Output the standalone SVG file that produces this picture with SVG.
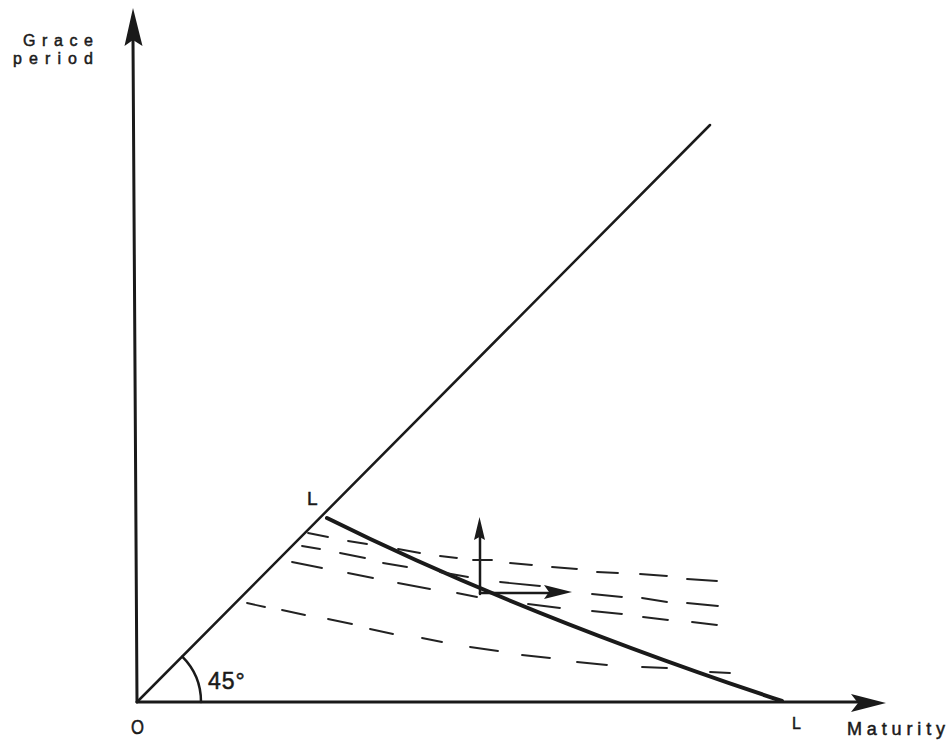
<svg xmlns="http://www.w3.org/2000/svg" width="950" height="744" viewBox="0 0 950 744">
  <style>
    .ax { stroke: #1a1a1a; stroke-width: 3; fill: none; stroke-linecap: round; }
    .ln { stroke: #1a1a1a; stroke-width: 2.5; fill: none; stroke-linecap: round; }
    .bud { stroke: #1a1a1a; stroke-width: 4; fill: none; stroke-linecap: round; }
    .dash line { stroke: #222; stroke-width: 1.8; stroke-linecap: round; }
    .head { fill: #1a1a1a; }
    .lbl { font-family: "Liberation Sans", Arial, sans-serif; fill: #1a1a1a; stroke: #1a1a1a; stroke-width: 0.5; }
  </style>
  <rect width="950" height="744" fill="#ffffff"/>

  <g id="axes">
    <line class="ax" x1="137" y1="702" x2="133" y2="40"/>
    <polygon class="head" points="133,8 142.5,46 133,40 124.5,46"/>
    <line class="ax" x1="137" y1="702" x2="860" y2="702"/>
    <polygon class="head" points="886,703 851,694 858,703 851,712"/>
  </g>

  <g id="connectors">
    <line id="ray45" class="ln" x1="137" y1="702" x2="710" y2="125"/>
    <path id="angle-arc" class="ln" d="M182.3,656.7 A64,64 0 0 1 201,702"/>
    <path id="budget-line" class="bud" d="M327,518 Q520,614 782,701"/>
    <g id="vertical-arrow">
      <line class="ln" x1="480" y1="594" x2="480" y2="535"/>
      <polygon class="head" points="479.5,517 485,540 479.5,537 474,540"/>
    </g>
    <g id="horizontal-arrow">
      <line class="ln" x1="480" y1="593" x2="550" y2="593"/>
      <polygon class="head" points="572,592 544,585 549,592 544,599"/>
    </g>
  </g>

  <g id="indifference-curves" class="dash">
    <g id="curve-1">
      <line x1="308" y1="533" x2="328" y2="537"/>
      <line x1="348" y1="541" x2="367" y2="544"/>
      <line x1="398" y1="549" x2="420" y2="553"/>
      <line x1="440" y1="556" x2="457" y2="558"/>
      <line x1="473" y1="560" x2="492" y2="560"/>
      <line x1="510" y1="563" x2="532" y2="565"/>
      <line x1="552" y1="567" x2="577" y2="569"/>
      <line x1="597" y1="572" x2="618" y2="573"/>
      <line x1="640" y1="574" x2="667" y2="576"/>
      <line x1="687" y1="579" x2="717" y2="581"/>
    </g>
    <g id="curve-2">
      <line x1="302" y1="546" x2="320" y2="549"/>
      <line x1="340" y1="553" x2="365" y2="558"/>
      <line x1="383" y1="563" x2="407" y2="567"/>
      <line x1="440" y1="572" x2="468" y2="577"/>
      <line x1="500" y1="582" x2="540" y2="586"/>
      <line x1="592" y1="594" x2="622" y2="597"/>
      <line x1="642" y1="598" x2="667" y2="602"/>
      <line x1="687" y1="603" x2="718" y2="606"/>
    </g>
    <g id="curve-3">
      <line x1="292" y1="562" x2="322" y2="568"/>
      <line x1="348" y1="573" x2="373" y2="578"/>
      <line x1="398" y1="583" x2="430" y2="589"/>
      <line x1="457" y1="593" x2="477" y2="597"/>
      <line x1="528" y1="604" x2="560" y2="608"/>
      <line x1="592" y1="611" x2="622" y2="614"/>
      <line x1="643" y1="617" x2="668" y2="620"/>
      <line x1="692" y1="622" x2="717" y2="625"/>
    </g>
    <g id="curve-4">
      <line x1="247" y1="603" x2="265" y2="607"/>
      <line x1="282" y1="610" x2="305" y2="615"/>
      <line x1="328" y1="619" x2="352" y2="624"/>
      <line x1="370" y1="629" x2="393" y2="634"/>
      <line x1="422" y1="638" x2="442" y2="642"/>
      <line x1="470" y1="647" x2="498" y2="651"/>
      <line x1="522" y1="655" x2="550" y2="658"/>
      <line x1="577" y1="662" x2="607" y2="665"/>
      <line x1="642" y1="667" x2="667" y2="668"/>
      <line x1="710" y1="672" x2="730" y2="673"/>
    </g>
  </g>

  <g id="labels">
    <text id="label-grace" class="lbl" x="23" y="46" font-size="16" textLength="70" lengthAdjust="spacing">Grace</text>
    <text id="label-period" class="lbl" x="13" y="64" font-size="16" textLength="80" lengthAdjust="spacing">period</text>
    <text id="label-origin" class="lbl" x="131" y="734" font-size="20" textLength="13" lengthAdjust="spacingAndGlyphs">O</text>
    <text id="label-45" class="lbl" x="208" y="689" font-size="23" letter-spacing="1">45°</text>
    <text id="label-L-top" class="lbl" x="307" y="505" font-size="19">L</text>
    <text id="label-L-bottom" class="lbl" x="792" y="729" font-size="16">L</text>
    <text id="label-maturity" class="lbl" x="847" y="735" font-size="18" textLength="98" lengthAdjust="spacing">Maturity</text>
  </g>
</svg>
